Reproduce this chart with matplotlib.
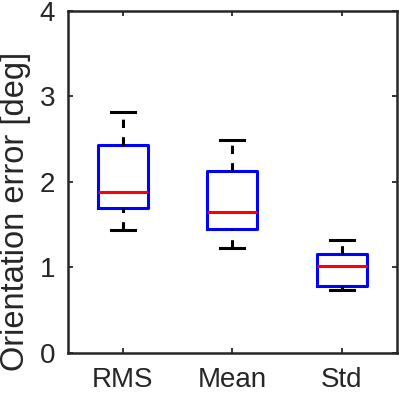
import matplotlib
matplotlib.use('Agg')
import matplotlib.pyplot as plt

# values (deg)
labels = ['RMS', 'Mean', 'Std']
whisker_low = [1.44, 1.23, 0.73]
q1 = [1.69, 1.45, 0.78]
median = [1.88, 1.65, 1.01]
q3 = [2.43, 2.12, 1.16]
whisker_high = [2.82, 2.49, 1.32]

plt.rcParams['font.family'] = ['Liberation Sans', 'DejaVu Sans']
plt.rcParams['lines.scale_dashes'] = False
axis_col = '#262626'

fig = plt.figure(figsize=(3.99, 3.93), dpi=100)
ax = fig.add_axes([0.170, 0.1025, 0.824, 0.8705])

stats = []
for lab, lo, a, m, b, hi in zip(labels, whisker_low, q1, median, q3, whisker_high):
    stats.append({'label': lab, 'whislo': lo, 'q1': a, 'med': m, 'q3': b, 'whishi': hi, 'fliers': []})

bp = ax.bxp(stats, positions=[1, 2, 3], widths=0.455, showfliers=False,
            boxprops=dict(color='#0000ff', linewidth=2.2),
            medianprops=dict(color='#ff0000', linewidth=2.2),
            whiskerprops=dict(color='black', linewidth=2.2, linestyle=(0, (6, 6.6))),
            capprops=dict(color='black', linewidth=2.2),
            capwidths=0.22)

# lower whiskers start at the cap, like matlab
for w in bp['whiskers'][::2]:
    w.set_data(w.get_xdata()[::-1], w.get_ydata()[::-1])

ax.set_xlim(0.5, 3.5)
ax.set_ylim(0, 4)
ax.set_yticks([0, 1, 2, 3, 4])
ax.set_ylabel('Orientation error [deg]', fontsize=23.5, color=axis_col)
ax.yaxis.set_label_coords(-0.112, 0.414)

for s in ax.spines.values():
    s.set_linewidth(1.8)
    s.set_color(axis_col)
ax.tick_params(direction='in', length=3.5, width=1.3, colors=axis_col,
               labelsize=20, top=True, right=True)
ax.tick_params(axis='y', pad=9)
ax.tick_params(axis='x', pad=10.5)

fig.savefig('out.png', dpi=100)
